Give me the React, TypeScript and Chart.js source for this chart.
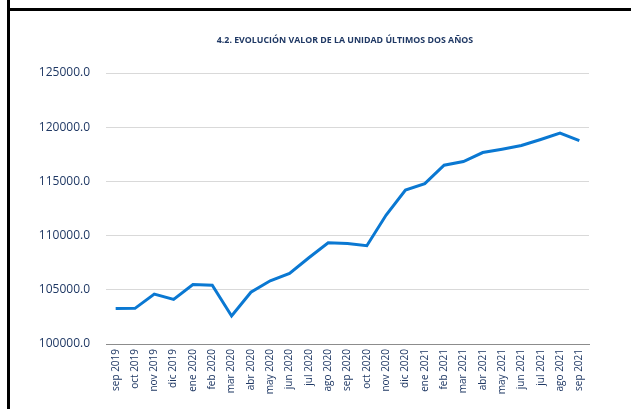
import React, { useEffect, useRef } from "react";
import { Chart, registerables } from "chart.js";

Chart.register(...registerables);

const TITLE = "4.2. EVOLUCIÓN VALOR DE LA UNIDAD ÚLTIMOS DOS AÑOS";

const categories = [
  "sep 2019", "oct 2019", "nov 2019", "dic 2019", "ene 2020", "feb 2020",
  "mar 2020", "abr 2020", "may 2020", "jun 2020", "jul 2020", "ago 2020",
  "sep 2020", "oct 2020", "nov 2020", "dic 2020", "ene 2021", "feb 2021",
  "mar 2021", "abr 2021", "may 2021", "jun 2021", "jul 2021", "ago 2021",
  "sep 2021",
];

const unitValues = [
  103270, 103290, 104600, 104110, 105490, 105430,
  102580, 104780, 105830, 106510, 107960, 109340,
  109280, 109070, 111900, 114210, 114800, 116490,
  116830, 117660, 117970, 118310, 118860, 119450,
  118760,
];

const yMin = 100000;
const yMax = 125000;
const yStep = 5000;

const TEXT = "#1F3864";

export default function App() {
  const ref = useRef<HTMLCanvasElement | null>(null);

  useEffect(() => {
    if (!ref.current) return;
    const chart = new Chart(ref.current, {
      type: "line",
      data: {
        labels: categories,
        datasets: [
          {
            data: unitValues,
            borderColor: "#0A78D2",
            borderWidth: 3,
            pointRadius: 0,
            tension: 0,
            fill: false,
          },
        ],
      },
      options: {
        responsive: false,
        animation: false,
        layout: { padding: { left: 10, top: 73, right: 42, bottom: 0 } },
        plugins: { legend: { display: false }, tooltip: { enabled: false }, title: { display: false } },
        scales: {
          x: {
            offset: true,
            grid: { display: false, drawTicks: false },
            border: { display: true, color: "#8C8C8C", width: 1 },
            ticks: {
              autoSkip: false,
              maxRotation: 90,
              minRotation: 90,
              padding: 5,
              color: TEXT,
              font: { family: "'Open Sans', sans-serif", size: 10 },
            },
            afterFit: (s: any) => {
              s.height = 65;
            },
          },
          y: {
            min: yMin,
            max: yMax,
            grid: {
              drawTicks: false,
              color: (ctx: any) => (ctx.tick && ctx.tick.value === yMin ? "#8C8C8C" : "#D9D9D9"),
              lineWidth: 1,
            },
            border: { display: false },
            ticks: {
              stepSize: yStep,
              padding: 16,
              color: TEXT,
              font: { family: "'Open Sans', sans-serif", size: 12 },
              callback: (v: any) => Number(v).toFixed(1),
            },
            afterFit: (s: any) => {
              s.width = 96;
            },
          },
        },
      },
    });
    return () => chart.destroy();
  }, []);

  return (
    <div style={{ position: "fixed", left: 0, top: 0, width: 631, height: 409, background: "#fff", overflow: "hidden" }}>
      <canvas ref={ref} width={631} height={409} style={{ position: "absolute", left: 0, top: 0, width: 631, height: 409 }} />
      <div style={{ position: "absolute", left: 7, top: 0, width: 3, height: 409, background: "#000" }} />
      <div style={{ position: "absolute", left: 7, top: 8, width: 624, height: 3, background: "#000" }} />
      <div
        style={{
          position: "absolute",
          left: 0,
          width: 690,
          top: 33,
          textAlign: "center",
          fontFamily: "'Open Sans', sans-serif",
          fontWeight: 700,
          fontSize: 8.8,
          color: TEXT,
          whiteSpace: "nowrap",
          lineHeight: "14px",
        }}
      >
        {TITLE}
      </div>
    </div>
  );
}
